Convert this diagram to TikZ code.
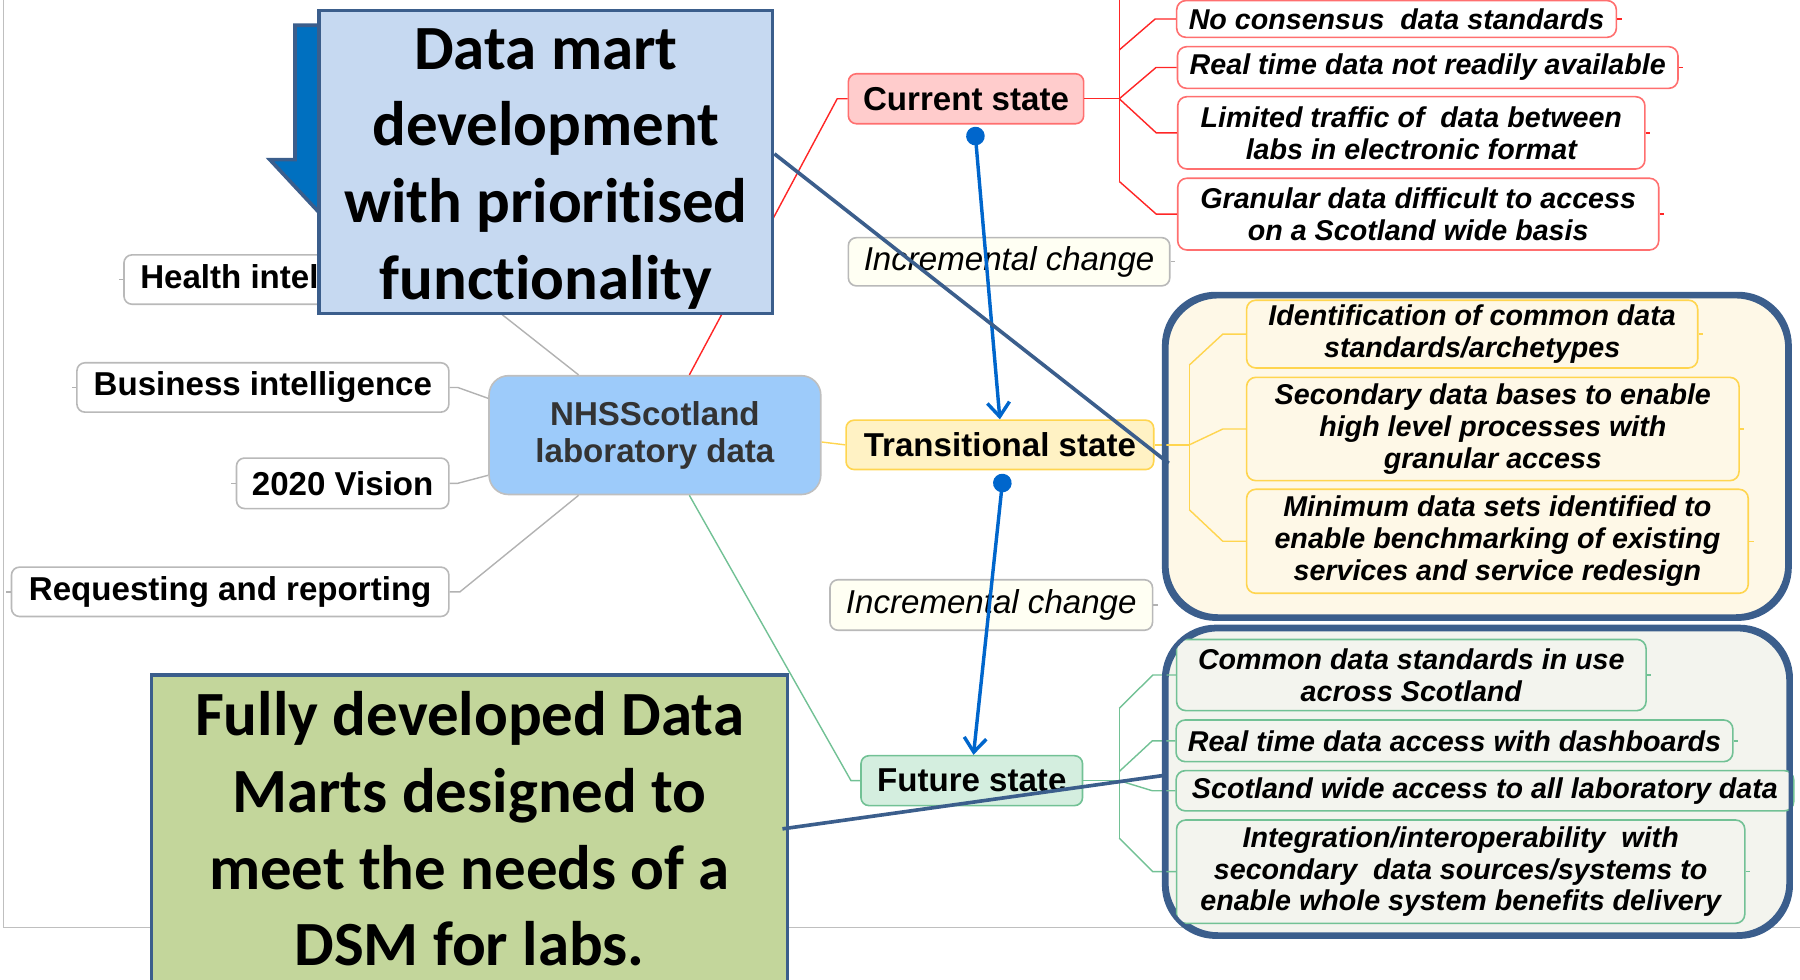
\documentclass[tikz,border=0pt]{standalone}
\usepackage{fontspec}
\setmainfont{Liberation Sans}
\newfontfamily\calloutfont[Ligatures = NoCommon]{Carlito}
\usetikzlibrary{calc, arrows.meta}

\definecolor{calloutBlue}{HTML}{C6D9F1}
\definecolor{calloutGreen}{HTML}{C3D69B}
\definecolor{calloutEdge}{HTML}{3B5E8C}
\definecolor{arrowBlue}{HTML}{0066CC}
\definecolor{blockBlue}{HTML}{0070C0}
\definecolor{hubFill}{HTML}{9DCBFA}
\definecolor{currentFill}{HTML}{FFCCCC}
\definecolor{currentEdge}{HTML}{FF6F6F}
\definecolor{transFill}{HTML}{FFF2C4}
\definecolor{transEdge}{HTML}{FFD54F}
\definecolor{transPanel}{HTML}{FEF8E7}
\definecolor{futureFill}{HTML}{D4EEDF}
\definecolor{futureEdge}{HTML}{72C195}
\definecolor{futurePanel}{HTML}{F3F4EE}
\definecolor{changeFill}{HTML}{FFFFF3}

\tikzset{
	topic/.style = {draw = gray!55, fill = white, rounded corners = 0.07cm, inner sep = 0pt, align = center, font = \fontsize{8.2}{9.2}\selectfont\bfseries},
	hub/.style = {draw = gray!50, fill = hubFill, rounded corners = 0.17cm, inner sep = 0pt, align = center, text = black!80, font = \fontsize{8.2}{9.2}\selectfont\bfseries},
	state/.style = {rounded corners = 0.07cm, inner sep = 0pt, font = \fontsize{8.2}{9.2}\selectfont\bfseries},
	change/.style = {draw = gray!55, fill = changeFill, rounded corners = 0.07cm, inner sep = 0pt, font = \fontsize{8.2}{9.2}\selectfont\itshape},
	detail/.style = {rounded corners = 0.08cm, inner sep = 0pt, align = center, font = \fontsize{7.1}{7.9}\selectfont\bfseries\itshape},
	panel/.style = {draw = calloutEdge, line width = 1.1pt, rounded corners = 0.45cm, inner sep = 0pt},
	callout/.style = {draw = calloutEdge, line width = 0.9pt, inner sep = 0pt},
	calloutText/.style = {inner sep = 0pt, align = center, font = \calloutfont\fontsize{15.6}{19}\selectfont\bfseries},
	pointer/.style = {draw = calloutEdge, line width = 0.9pt},
	flow/.style = {arrowBlue, line width = 0.85pt, {Circle[length = 4.6pt]}-{Straight Barb[length = 3.5pt, width = 5.5pt]}},
	branch/.style = {line width = 0.35pt},
}

\begin{document}
\begin{tikzpicture}[]

		\useasboundingbox (0, 0) rectangle (15.68, -8.53);

		% slide frame
		\draw[gray!50, line width = 0.4pt] (0.03, 0) -- (0.03, -8.08) -- (15.68, -8.08);

		% left topics
		\node[topic, minimum width = 2.83cm, minimum height = 0.43cm] (HI) at (2.495, -2.435) {Health intelligence};
		\node[topic, minimum width = 3.24cm, minimum height = 0.43cm] (BI) at (2.29, -3.375) {Business intelligence};
		\node[topic, minimum width = 1.85cm, minimum height = 0.44cm] (VI) at (2.985, -4.21) {2020 Vision};
		\node[topic, minimum width = 3.81cm, minimum height = 0.43cm] (RR) at (2.005, -5.155) {Requesting and reporting};

		% central topic
		\node[hub, minimum width = 2.89cm, minimum height = 1.035cm] (HUB) at (5.705, -3.79) {NHSScotland\\laboratory data};

		% states
		\node[state, draw = currentEdge, fill = currentFill, minimum width = 2.05cm, minimum height = 0.435cm] (CS) at (8.415, -0.86) {Current state};
		\node[state, draw = transEdge, fill = transFill, minimum width = 2.68cm, minimum height = 0.43cm] (TS) at (8.71, -3.875) {Transitional state};
		\node[state, draw = futureEdge, fill = futureFill, minimum width = 1.93cm, minimum height = 0.435cm] (FS) at (8.465, -6.80) {Future state};

		% incremental change labels
		\node[change, minimum width = 2.80cm, minimum height = 0.42cm] (IC1) at (8.79, -2.28) {Incremental change};
		\node[change, minimum width = 2.81cm, minimum height = 0.44cm] (IC2) at (8.635, -5.27) {Incremental change};

		% branch coordinates
		\coordinate (CK) at (9.75, -0.86);
		\coordinate (TK) at (10.36, -3.875);
		\coordinate (FK) at (9.75, -6.80);

		% links to the central topic
		\draw[branch, gray!60] (HI.east) -- ++(0.07, 0) -- ($(HUB.north) + (-0.665, 0)$);
		\draw[branch, gray!60] (BI.east) -- ++(0.07, 0) -- ($(HUB.west) + (0, +0.32)$);
		\draw[branch, gray!60] (VI.east) -- ++(0.07, 0) -- ($(HUB.west) + (0, -0.35)$);
		\draw[branch, gray!60] (RR.east) -- ++(0.09, 0) -- ($(HUB.south) + (-0.665, 0)$);
		\draw[branch, red!85] ($(HUB.north) + (+0.3, 0)$) -- ($(CS.west) + (-0.09, 0)$) -- (CS.west);
		\draw[branch, transEdge] ($(HUB.east) + (0, -0.06)$) -- (TS.west);
		\draw[branch, futureEdge] ($(HUB.south) + (+0.3, 0)$) -- ($(FS.west) + (-0.08, 0)$) -- (FS.west);

		% current state details
		\node[detail, draw = currentEdge, fill = white, minimum width = 3.83cm, minimum height = 0.32cm] (C1) at (12.165, -0.165) {No consensus~~data standards};
		\node[detail, draw = currentEdge, fill = white, minimum width = 4.36cm, minimum height = 0.363cm] (C2) at (12.437, -0.588) {Real time data not readily available};
		\node[detail, draw = currentEdge, fill = white, minimum width = 4.07cm, minimum height = 0.63cm] (C3) at (12.294, -1.157) {Limited traffic of~~data between\\labs in electronic format};
		\node[detail, draw = currentEdge, fill = white, minimum width = 4.19cm, minimum height = 0.625cm] (C4) at (12.354, -1.865) {Granular data difficult to access\\on a Scotland wide basis};

		\draw[branch, red!85] (CS.east) -- (CK);
		\draw[branch, red!85] (9.75, 0) -- (9.75, -1.58);
		\draw[branch, red!85] (9.75, -0.435) -- ($(C1.west) + (-0.18, 0)$) -- (C1.west);
		\draw[branch, red!85] (CK) -- ($(C2.west) + (-0.18, 0)$) -- (C2.west);
		\draw[branch, red!85] (CK) -- ($(C3.west) + (-0.18, 0)$) -- (C3.west);
		\draw[branch, red!85] (9.75, -1.58) -- ($(C4.west) + (-0.18, 0)$) -- (C4.west);

		% transitional state details
		\node[panel, fill = transPanel, minimum width = 5.41cm, minimum height = 2.79cm] (TP) at (12.865, -3.975) {};
		\node[detail, draw = transEdge, fill = transPanel, minimum width = 3.93cm, minimum height = 0.59cm] (T1) at (12.824, -2.91) {Identification of common data\\standards/archetypes};
		\node[detail, draw = transEdge, fill = transPanel, minimum width = 4.29cm, minimum height = 0.90cm] (T2) at (13.004, -3.737) {Secondary data bases to enable\\high level processes with\\granular access};
		\node[detail, draw = transEdge, fill = transPanel, minimum width = 4.37cm, minimum height = 0.906cm] (T3) at (13.044, -4.715) {Minimum data sets identified to\\enable benchmarking of existing\\services and service redesign};

		\draw[branch, transEdge] (TS.east) -- (TK);
		\draw[branch, transEdge] (10.36, -3.18) -- (10.36, -4.44);
		\draw[branch, transEdge] (10.36, -3.18) -- ($(T1.west) + (-0.2, 0)$) -- (T1.west);
		\draw[branch, transEdge] (TK) -- ($(T2.west) + (-0.2, 0)$) -- (T2.west);
		\draw[branch, transEdge] (10.36, -4.44) -- ($(T3.west) + (-0.2, 0)$) -- (T3.west);
		\draw[panel] (TP.south west) rectangle (TP.north east);

		% future state details
		\node[panel, fill = futurePanel, minimum width = 5.42cm, minimum height = 2.66cm] (FP) at (12.87, -6.81) {};
		\node[detail, draw = futureEdge, fill = futurePanel, minimum width = 4.09cm, minimum height = 0.62cm] (F1) at (12.294, -5.88) {Common data standards in use\\across Scotland};
		\node[detail, draw = futureEdge, fill = futurePanel, minimum width = 4.85cm, minimum height = 0.363cm] (F2) at (12.67, -6.453) {Real time data access with dashboards};
		\node[detail, draw = futureEdge, fill = futurePanel, minimum width = 5.38cm, minimum height = 0.35cm] (F3) at (12.935, -6.888) {Scotland wide access to all laboratory data};
		\node[detail, draw = futureEdge, fill = futurePanel, minimum width = 4.95cm, minimum height = 0.90cm] (F4) at (12.724, -7.593) {Integration/interoperability~~with\\secondary~~data sources/systems to\\enable whole system benefits delivery};

		\draw[branch, futureEdge] (FS.east) -- (FK);
		\draw[branch, futureEdge] (9.75, -6.17) -- (9.75, -7.30);
		\draw[branch, futureEdge] (9.75, -6.17) -- ($(F1.west) + (-0.2, 0)$) -- (F1.west);
		\draw[branch, futureEdge] (9.75, -6.72) -- ($(F2.west) + (-0.2, 0)$) -- (F2.west);
		\draw[branch, futureEdge] (FK) -- ($(F3.west) + (-0.2, 0)$) -- (F3.west);
		\draw[branch, futureEdge] (9.75, -7.30) -- ($(F4.west) + (-0.2, 0)$) -- (F4.west);
		\draw[panel] (FP.south west) rectangle (FP.north east);

		% collapse stubs
		\foreach \n in {HI, BI, VI, RR} {
			\draw[branch, gray!60] (\n.west) -- ++(-0.04, 0);
		}
		\foreach \n in {IC1, IC2} {
			\draw[branch, gray!60] (\n.east) -- ++(0.04, 0);
		}
		\foreach \n in {C1, C2, C3, C4} {
			\draw[branch, red!85] (\n.east) -- ++(0.04, 0);
		}
		\foreach \n in {T1, T2, T3} {
			\draw[branch, transEdge] (\n.east) -- ++(0.04, 0);
		}
		\foreach \n in {F1, F2, F4} {
			\draw[branch, futureEdge] (\n.east) -- ++(0.04, 0);
		}

		% state transitions
		\draw[flow] ($(CS.south) + (0.075, -0.02)$) -- (TS.north);
		\draw[flow] ($(TS.south) + (0.03, -0.03)$) -- ($(FS.north) + (0.015, 0)$);

		% block arrow behind the callout
		\draw[fill = blockBlue, draw = calloutEdge, line width = 0.9pt] (2.57, -0.22) -- (3.10, -0.22) -- (3.10, -1.39) -- (3.30, -1.39) -- (2.90, -1.98) -- (2.35, -1.39) -- (2.57, -1.39) -- cycle;

		% callouts
		\node[callout, fill = calloutBlue, minimum width = 3.95cm, minimum height = 2.64cm] (CO1) at (4.755, -1.41) {};
		\node[calloutText] (CO1T) at ($(CO1) + (0, -0.06)$) {Data mart\\development\\with prioritised\\functionality};
		\node[callout, fill = calloutGreen, minimum width = 5.54cm, minimum height = 2.72cm] (CO2) at (4.09, -7.24) {};
		\node[calloutText] (CO2T) at ($(CO2) + (0, +0.02)$) {Fully developed Data\\Marts designed to\\meet the needs of a\\DSM for labs.};

		\draw[pointer] ($(CO1.east) + (0, 0.07)$) -- ($(TP.west) + (0.04, -0.06)$);
		\draw[pointer] ($(CO2.east) + (-0.06, 0.02)$) -- ($(FP.west) + (0.03, 0.06)$);

	\end{tikzpicture}
\end{document}
